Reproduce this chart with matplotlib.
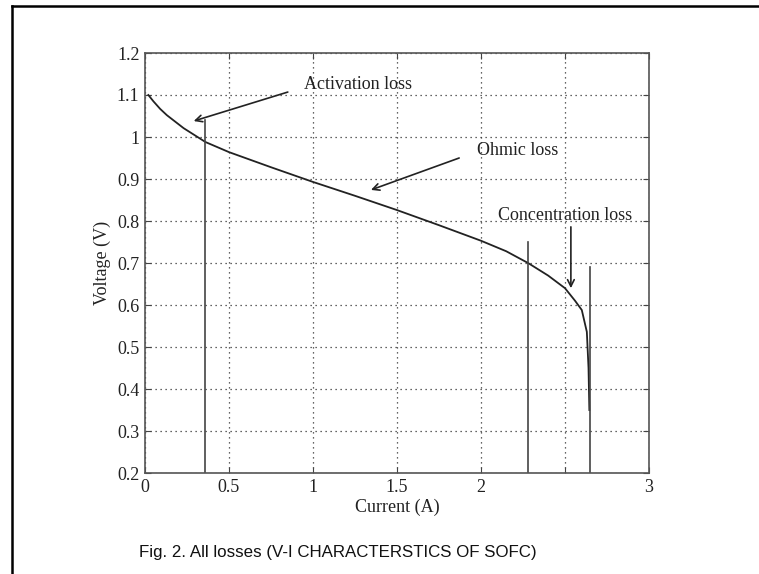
import matplotlib
matplotlib.use("Agg")
import matplotlib.pyplot as plt
from matplotlib.lines import Line2D
import numpy as np

# V-I curve
current = [0.02, 0.05, 0.09, 0.13, 0.23, 0.36, 0.5, 0.75, 1.0, 1.25, 1.5, 1.75,
           2.0, 2.15, 2.28, 2.4, 2.5, 2.56, 2.6, 2.63, 2.64, 2.645]
voltage = [1.10, 1.085, 1.067, 1.052, 1.021, 0.988, 0.964, 0.928, 0.893, 0.86, 0.826, 0.79,
           0.753, 0.728, 0.70, 0.67, 0.64, 0.61, 0.588, 0.536, 0.45, 0.35]

# region boundary lines (x, top)
bound_x = [0.357, 2.28, 2.65]
bound_top = [1.04, 0.75, 0.69]

# annotations: label, text pos, arrow start, arrow tip
notes = [
    ("Activation loss", (1.27, 1.124), (0.85, 1.107), (0.29, 1.038)),
    ("Ohmic loss", (2.22, 0.969), (1.87, 0.95), (1.345, 0.874)),
    ("Concentration loss", (2.5, 0.814), (2.535, 0.786), (2.535, 0.64)),
]

xticks = [0, 0.5, 1, 1.5, 2, 2.5, 3]
xticklabels = ["0", "0.5", "1", "1.5", "2", "", "3"]
yticks = [0.2, 0.3, 0.4, 0.5, 0.6, 0.7, 0.8, 0.9, 1.0, 1.1, 1.2]
yticklabels = ["0.2", "0.3", "0.4", "0.5", "0.6", "0.7", "0.8", "0.9", "1", "1.1", "1.2"]

plt.rcParams['font.family'] = ['Liberation Serif', 'DejaVu Serif']

fig = plt.figure(figsize=(7.59, 5.74), dpi=100)
ax = fig.add_axes([145/759, 1-473/574, (649-145)/759, (473-53)/574])

ax.plot(current, voltage, color='#222222', lw=1.3)
for bx, bt in zip(bound_x, bound_top):
    ax.plot([bx, bx], [0.2, bt], color='#444444', lw=1.2)

for label, tpos, start, tip in notes:
    ax.text(tpos[0], tpos[1], label, ha='center', va='center', fontsize=13, color='#222222')
    ax.annotate("", xy=tip, xytext=start,
                arrowprops=dict(arrowstyle='->', color='#222222', lw=1.2,
                                mutation_scale=12, shrinkA=0, shrinkB=0))

ax.set_xlim(0, 3)
ax.set_ylim(0.2, 1.2)
ax.set_xticks(xticks)
ax.set_xticklabels(xticklabels)
ax.set_yticks(yticks)
ax.set_yticklabels(yticklabels)
ax.tick_params(direction='in', top=True, right=True, labelsize=13, length=4,
               color='#444444', labelcolor='#222222', pad=4)
ax.grid(True, linestyle=(0, (1, 3)), color='#333333', lw=0.9)
for s in ax.spines.values():
    s.set_color('#555555')
    s.set_linewidth(1.2)

ax.set_xlabel("Current (A)", fontsize=13, color='#222222', labelpad=2)
ax.set_ylabel("Voltage (V)", fontsize=13, color='#222222', labelpad=4)

fig.text(338/759, 1-553/574, "Fig. 2. All losses (V-I CHARACTERSTICS OF SOFC)",
         ha='center', va='center', fontsize=12.2, family='Liberation Sans', color='#111111')

# outer frame (left and top only visible)
fig.add_artist(Line2D([12/759, 12/759], [0, 1-6/574], transform=fig.transFigure,
                      color='black', lw=1.8))
fig.add_artist(Line2D([12/759, 1], [1-6/574, 1-6/574], transform=fig.transFigure,
                      color='black', lw=1.8))

fig.savefig("out.png", dpi=100)
